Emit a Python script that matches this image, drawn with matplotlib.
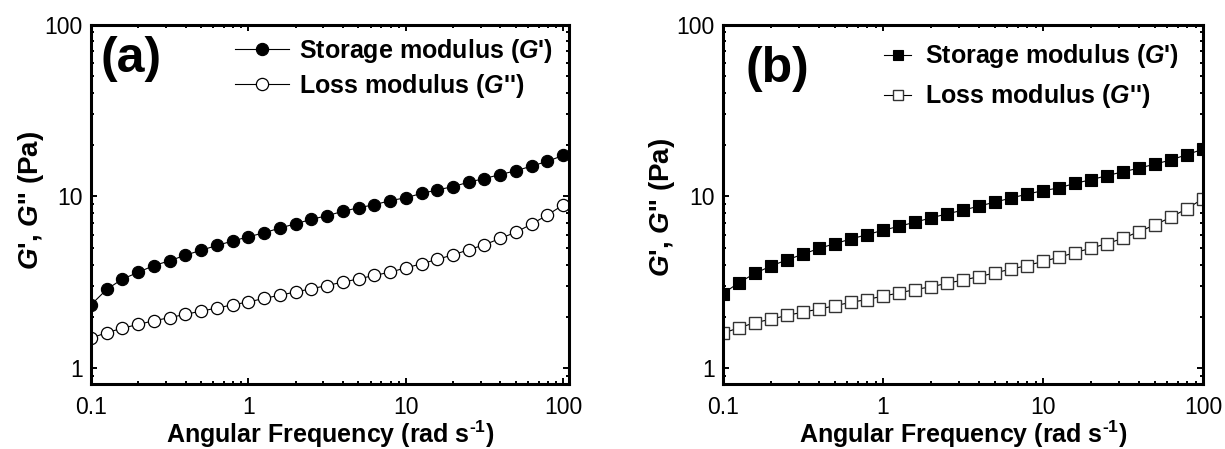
import matplotlib
matplotlib.use('Agg')
import matplotlib.pyplot as plt
from matplotlib.lines import Line2D
from matplotlib.legend_handler import HandlerLine2D
from matplotlib.ticker import FixedLocator, FixedFormatter, LogLocator, NullFormatter

plt.rcParams['font.family'] = ['Liberation Sans', 'DejaVu Sans']
plt.rcParams['mathtext.fontset'] = 'custom'
plt.rcParams['mathtext.rm'] = 'Liberation Sans:bold'
plt.rcParams['mathtext.it'] = 'Liberation Sans:italic:bold'
plt.rcParams['mathtext.bf'] = 'Liberation Sans:bold'

# angular frequency (rad/s), 10 points per decade
freq = [0.1, 0.126, 0.158, 0.2, 0.251, 0.316, 0.398, 0.501, 0.631, 0.794,
        1, 1.26, 1.58, 2, 2.51, 3.16, 3.98, 5.01, 6.31, 7.94,
        10, 12.6, 15.8, 20, 25.1, 31.6, 39.8, 50.1, 63.1, 79.4, 100]

# panel (a)
g1_a = [2.34, 2.88, 3.30, 3.62, 3.96, 4.22, 4.55, 4.86, 5.18, 5.50,
        5.82, 6.14, 6.54, 6.93, 7.35, 7.72, 8.18, 8.59, 8.94, 9.44,
        9.82, 10.4, 10.9, 11.4, 12.1, 12.7, 13.4, 14.1, 15.0, 16.0, 17.3]
g2_a = [1.50, 1.61, 1.71, 1.80, 1.89, 1.97, 2.06, 2.15, 2.24, 2.34,
        2.43, 2.55, 2.66, 2.78, 2.90, 3.03, 3.17, 3.31, 3.47, 3.62,
        3.84, 4.05, 4.30, 4.57, 4.89, 5.23, 5.69, 6.19, 6.90, 7.79, 8.91]

# panel (b)
g1_b = [2.72, 3.15, 3.56, 3.94, 4.27, 4.61, 4.98, 5.31, 5.65, 5.99,
        6.35, 6.70, 7.07, 7.50, 7.91, 8.31, 8.78, 9.26, 9.78, 10.3,
        10.8, 11.2, 11.9, 12.5, 13.2, 13.9, 14.6, 15.4, 16.3, 17.5, 18.8]
g2_b = [1.60, 1.72, 1.84, 1.93, 2.03, 2.12, 2.21, 2.31, 2.42, 2.51,
        2.63, 2.74, 2.87, 2.98, 3.12, 3.26, 3.41, 3.59, 3.77, 3.96,
        4.18, 4.43, 4.70, 5.00, 5.31, 5.70, 6.24, 6.82, 7.57, 8.48, 9.69]

x_ticks = [0.1, 1, 10, 100]
x_ticklabels = ['0.1', '1', '10', '100']
y_ticks = [1, 10, 100]
y_ticklabels = ['1', '10', '100']

label_storage = r"Storage modulus ($\mathit{G}$')"
label_loss = r"Loss modulus ($\mathit{G}$'')"
xlabel = "Angular Frequency (rad s$^{\\text{-1}}$)"
ylabel = r"$\mathit{G}$', $\mathit{G}$'' (Pa)"


class RightMarkerHandler(HandlerLine2D):
    # marker sits near the right end of the legend line
    def get_xdata(self, legend, xdescent, ydescent, width, height, fontsize):
        xdata, _ = super().get_xdata(legend, xdescent, ydescent, width, height, fontsize)
        return xdata, [xdata[0] + 0.78 * (xdata[-1] - xdata[0])]


def style_axes(ax, xmax):
    ax.set_xscale('log')
    ax.set_yscale('log')
    ax.set_xlim(0.1, xmax)
    ax.set_ylim(0.81, 100)
    ax.xaxis.set_major_locator(FixedLocator(x_ticks))
    ax.xaxis.set_major_formatter(FixedFormatter(x_ticklabels))
    ax.yaxis.set_major_locator(FixedLocator(y_ticks))
    ax.yaxis.set_major_formatter(FixedFormatter(y_ticklabels))
    ax.xaxis.set_minor_locator(LogLocator(base=10, subs=range(2, 10)))
    ax.yaxis.set_minor_locator(LogLocator(base=10, subs=range(2, 10)))
    ax.xaxis.set_minor_formatter(NullFormatter())
    ax.yaxis.set_minor_formatter(NullFormatter())
    ax.tick_params(which='both', direction='in', top=True, right=True, width=1.4)
    ax.tick_params(which='major', length=4.5, labelsize=16.5)
    ax.tick_params(which='minor', length=2.2)
    ax.tick_params(axis='x', pad=8.5)
    ax.tick_params(axis='y', pad=6)
    for sp in ax.spines.values():
        sp.set_linewidth(2.2)
    ax.set_xlabel(xlabel, fontsize=18, fontweight='bold')
    ax.set_ylabel(ylabel, fontsize=20, fontweight='bold')


fig = plt.figure(figsize=(12.25, 4.49), dpi=100)
ax1 = fig.add_axes([0.0743, 0.1448, 0.3902, 0.8006])
ax2 = fig.add_axes([0.5902, 0.1448, 0.3918, 0.8006])

# (a) circles
ax1.plot(freq, g1_a, '-', color='black', lw=0.8, marker='o', ms=8.8,
         mfc='black', mec='black', mew=0.8, label=label_storage)
ax1.plot(freq, g2_a, '-', color='black', lw=0.8, marker='o', ms=8.8,
         mfc='white', mec='black', mew=0.9, label=label_loss)
style_axes(ax1, 109)
ax1.xaxis.set_label_coords(0.5, -0.097)
ax1.yaxis.set_label_coords(-0.094, 0.51)
ax1.text(0.019, 0.904, '(a)', transform=ax1.transAxes, fontsize=36,
         fontweight='bold', ha='left', va='center')
ax1.legend(loc='upper left', bbox_to_anchor=(0.301, 0.965), frameon=False,
           prop={'size': 18, 'weight': 'bold'}, handlelength=2.15,
           handletextpad=0.4, labelspacing=0.26, borderpad=0,
           borderaxespad=0, numpoints=1)

# (b) squares
ax2.plot(freq, g1_b, '-', color='black', lw=0.8, marker='s', ms=8,
         mfc='black', mec='black', mew=0.8, label=label_storage)
ax2.plot(freq, g2_b, '-', color='black', lw=0.8, marker='s', ms=8,
         mfc='white', mec='#333333', mew=1.0, label=label_loss)
style_axes(ax2, 100)
ax2.xaxis.set_label_coords(0.5, -0.097)
ax2.yaxis.set_label_coords(-0.096, 0.49)
ax2.text(0.046, 0.876, '(b)', transform=ax2.transAxes, fontsize=36,
         fontweight='bold', ha='left', va='center')
ax2.legend(loc='upper left', bbox_to_anchor=(0.335, 0.95), frameon=False,
           prop={'size': 18, 'weight': 'bold'}, handlelength=1.1,
           handletextpad=0.55, labelspacing=0.48, borderpad=0,
           borderaxespad=0, numpoints=1, markerscale=0.85,
           handler_map={Line2D: RightMarkerHandler(numpoints=1)})

fig.savefig('out.png', dpi=100)
